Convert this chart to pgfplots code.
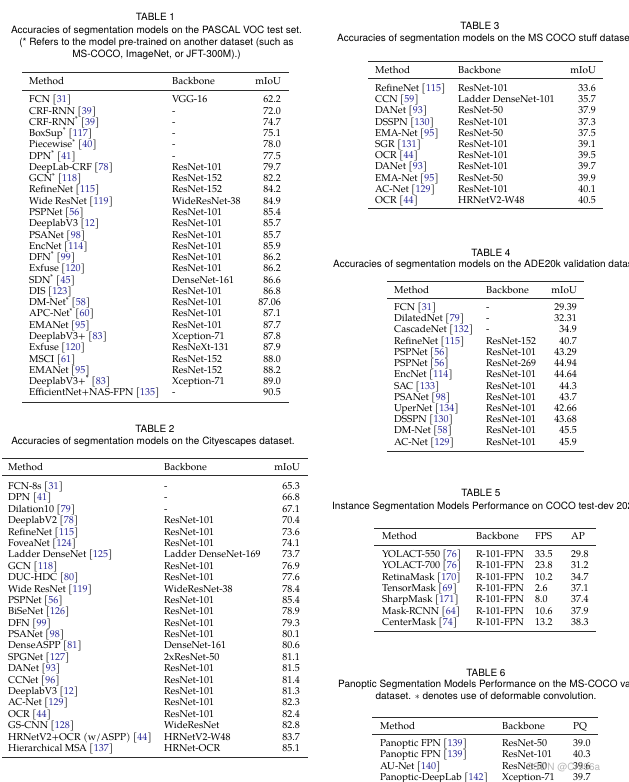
\documentclass[border=0pt]{standalone}
\usepackage{pgfplots}
\pgfplotsset{compat=1.18}
\usepackage{fontspec}
\setmainfont{TeX Gyre Pagella}
\setsansfont{TeX Gyre Heros}
\definecolor{citeblue}{RGB}{40,40,150}
\definecolor{rulegray}{RGB}{45,45,45}
\newcommand{\ct}[1]{[\textcolor{citeblue}{#1}]}
\newcommand{\st}{\textsuperscript{*}}
\newcommand{\caps}{\fontsize{10}{11}\selectfont\sffamily}
% method / backbone / value (right aligned)
\newcommand{\rowsMBV}[6]{%
 \foreach \m/\b/\v [count=\i from 0] in {#6}{%
  \pgfmathsetmacro{\yy}{#4+\i*#5+3.5}
  \node[anchor=base west,inner sep=0] at (#1,\yy) {\m};
  \node[anchor=base west,inner sep=0] at (#2,\yy) {\b};
  \node[anchor=base east,inner sep=0] at (#3,\yy) {\v};
 }}
% method / backbone / value (left aligned)
\newcommand{\rowsMBL}[6]{%
 \foreach \m/\b/\v [count=\i from 0] in {#6}{%
  \pgfmathsetmacro{\yy}{#4+\i*#5+3.5}
  \node[anchor=base west,inner sep=0] at (#1,\yy) {\m};
  \node[anchor=base west,inner sep=0] at (#2,\yy) {\b};
  \node[anchor=base west,inner sep=0] at (#3,\yy) {\v};
 }}
\newcommand{\rules}[5]{%
 \draw[rulegray,line width=1pt] (#1,#3)--(#2,#3);
 \draw[rulegray,line width=0.5pt] (#1,#4)--(#2,#4);
 \draw[rulegray,line width=1pt] (#1,#5)--(#2,#5);}
\begin{document}
\begin{tikzpicture}[x=1pt,y=-1pt,font=\fontsize{10}{12}\selectfont]
\begin{axis}[at={(0,0)},anchor=north west,hide axis,scale only axis,
  width=629pt,height=782pt,xmin=0,xmax=629,ymin=0,ymax=782]
\addplot[draw=none] coordinates {(0,0) (629,782)};
\end{axis}

% ---------------- TABLE 1
\node[anchor=base,inner sep=0] at (155.5,20.5) {\caps TABLE 1};
\node[anchor=base,inner sep=0] at (156.5,33) {\caps Accuracies of segmentation models on the PASCAL VOC test set.};
\node[anchor=base,inner sep=0] at (156.5,45.2) {\caps (* Refers to the model pre-trained on another dataset (such as};
\node[anchor=base,inner sep=0] at (156.5,57.5) {\caps MS-COCO, ImageNet, or JFT-300M).)};
\rules{22}{289}{72.5}{90.5}{402}
\node[anchor=base west,inner sep=0] at (29,84.5) {Method};
\node[anchor=base west,inner sep=0] at (172,84.5) {Backbone};
\node[anchor=base east,inner sep=0] at (281,84.5) {mIoU};
\rowsMBV{29}{172}{281}{99.3}{11.27}{%
 {FCN \ct{31}}/VGG-16/62.2,
 {CRF-RNN \ct{39}}/-/72.0,
 {CRF-RNN\st{} \ct{39}}/-/74.7,
 {BoxSup\st{} \ct{117}}/-/75.1,
 {Piecewise\st{} \ct{40}}/-/78.0,
 {DPN\st{} \ct{41}}/-/77.5,
 {DeepLab-CRF \ct{78}}/ResNet-101/79.7,
 {GCN\st{} \ct{118}}/ResNet-152/82.2,
 {RefineNet \ct{115}}/ResNet-152/84.2,
 {Wide ResNet \ct{119}}/WideResNet-38/84.9,
 {PSPNet \ct{56}}/ResNet-101/85.4,
 {DeeplabV3 \ct{12}}/ResNet-101/85.7,
 {PSANet \ct{98}}/ResNet-101/85.7,
 {EncNet \ct{114}}/ResNet-101/85.9,
 {DFN\st{} \ct{99}}/ResNet-101/86.2,
 {Exfuse \ct{120}}/ResNet-101/86.2,
 {SDN\st{} \ct{45}}/DenseNet-161/86.6,
 {DIS \ct{123}}/ResNet-101/86.8,
 {DM-Net\st{} \ct{58}}/ResNet-101/87.06,
 {APC-Net\st{} \ct{60}}/ResNet-101/87.1,
 {EMANet \ct{95}}/ResNet-101/87.7,
 {DeeplabV3+ \ct{83}}/Xception-71/87.8,
 {Exfuse \ct{120}}/ResNeXt-131/87.9,
 {MSCI \ct{61}}/ResNet-152/88.0,
 {EMANet \ct{95}}/ResNet-152/88.2,
 {DeeplabV3+\st{} \ct{83}}/Xception-71/89.0,
 {EfficientNet+NAS-FPN \ct{135}}/-/90.5}

% ---------------- TABLE 2
\node[anchor=base,inner sep=0] at (155,432.5) {\caps TABLE 2};
\node[anchor=base,inner sep=0] at (153,444.8) {\caps Accuracies of segmentation models on the Cityescapes dataset.};
\rules{2}{308}{458}{475}{757.5}
\node[anchor=base west,inner sep=0] at (8,470.5) {Method};
\node[anchor=base west,inner sep=0] at (164,470.5) {Backbone};
\node[anchor=base east,inner sep=0] at (300,470.5) {mIoU};
\rowsMBV{8}{164}{300}{486}{11.39}{%
 {FCN-8s \ct{31}}/-/65.3,
 {DPN \ct{41}}/-/66.8,
 {Dilation10 \ct{79}}/-/67.1,
 {DeeplabV2 \ct{78}}/ResNet-101/70.4,
 {RefineNet \ct{115}}/ResNet-101/73.6,
 {FoveaNet \ct{124}}/ResNet-101/74.1,
 {Ladder DenseNet \ct{125}}/{Ladder DenseNet-169}/73.7,
 {GCN \ct{118}}/ResNet-101/76.9,
 {DUC-HDC \ct{80}}/ResNet-101/77.6,
 {Wide ResNet \ct{119}}/WideResNet-38/78.4,
 {PSPNet \ct{56}}/ResNet-101/85.4,
 {BiSeNet \ct{126}}/ResNet-101/78.9,
 {DFN \ct{99}}/ResNet-101/79.3,
 {PSANet \ct{98}}/ResNet-101/80.1,
 {DenseASPP \ct{81}}/DenseNet-161/80.6,
 {SPGNet \ct{127}}/2xResNet-50/81.1,
 {DANet \ct{93}}/ResNet-101/81.5,
 {CCNet \ct{96}}/ResNet-101/81.4,
 {DeeplabV3 \ct{12}}/ResNet-101/81.3,
 {AC-Net \ct{129}}/ResNet-101/82.3,
 {OCR \ct{44}}/ResNet-101/82.4,
 {GS-CNN \ct{128}}/WideResNet/82.8,
 {HRNetV2+OCR (w{/}ASPP) \ct{44}}/HRNetV2-W48/83.7,
 {Hierarchical MSA \ct{137}}/HRNet-OCR/85.1}

% ---------------- TABLE 3
\node[anchor=base,inner sep=0] at (480,29.5) {\caps TABLE 3};
\node[anchor=base west,inner sep=0] at (337,41.5) {\caps Accuracies of segmentation models on the MS COCO stuff dataset.};
\rules{368}{603}{61.5}{78.5}{208.5}
\node[anchor=base west,inner sep=0] at (375,73.5) {Method};
\node[anchor=base west,inner sep=0] at (458,73.5) {Backbone};
\node[anchor=base east,inner sep=0] at (596,73.5) {mIoU};
\rowsMBV{375}{458}{596}{88}{11.2}{%
 {RefineNet \ct{115}}/ResNet-101/33.6,
 {CCN \ct{59}}/{Ladder DenseNet-101}/35.7,
 {DANet \ct{93}}/ResNet-50/37.9,
 {DSSPN \ct{130}}/ResNet-101/37.3,
 {EMA-Net \ct{95}}/ResNet-50/37.5,
 {SGR \ct{131}}/ResNet-101/39.1,
 {OCR \ct{44}}/ResNet-101/39.5,
 {DANet \ct{93}}/ResNet-101/39.7,
 {EMA-Net \ct{95}}/ResNet-50/39.9,
 {AC-Net \ct{129}}/ResNet-101/40.1,
 {OCR \ct{44}}/HRNetV2-W48/40.5}

% ---------------- TABLE 4
\node[anchor=base,inner sep=0] at (491,256.5) {\caps TABLE 4};
\node[anchor=base west,inner sep=0] at (333,267.5) {\caps Accuracies of segmentation models on the ADE20k validation dataset.};
\rules{387}{584}{281}{298.5}{451}
\node[anchor=base west,inner sep=0] at (394,293.5) {Method};
\node[anchor=base west,inner sep=0] at (486,293.5) {Backbone};
\node[anchor=base east,inner sep=0] at (577,293.5) {mIoU};
\rowsMBV{394}{486}{577}{307}{11.22}{%
 {FCN \ct{31}}/-/29.39,
 {DilatedNet \ct{79}}/-/32.31,
 {CascadeNet \ct{132}}/-/34.9,
 {RefineNet \ct{115}}/ResNet-152/40.7,
 {PSPNet \ct{56}}/ResNet-101/43.29,
 {PSPNet \ct{56}}/ResNet-269/44.94,
 {EncNet \ct{114}}/ResNet-101/44.64,
 {SAC \ct{133}}/ResNet-101/44.3,
 {PSANet \ct{98}}/ResNet-101/43.7,
 {UperNet \ct{134}}/ResNet-101/42.66,
 {DSSPN \ct{130}}/ResNet-101/43.68,
 {DM-Net \ct{58}}/ResNet-101/45.5,
 {AC-Net \ct{129}}/ResNet-101/45.9}

% ---------------- TABLE 5
\node[anchor=base,inner sep=0] at (481,496.5) {\caps TABLE 5};
\node[anchor=base west,inner sep=0] at (332,509) {\caps Instance Segmentation Models Performance on COCO test-dev 2020.};
\rules{374}{596}{528}{545}{631}
\node[anchor=base west,inner sep=0] at (382,539.5) {Method};
\node[anchor=base west,inner sep=0] at (476,539.5) {Backbone};
\node[anchor=base west,inner sep=0] at (535,539.5) {FPS};
\node[anchor=base west,inner sep=0] at (571,539.5) {AP};
\foreach \m/\b/\f/\a [count=\i from 0] in {%
 {YOLACT-550 \ct{76}}/R-101-FPN/33.5/29.8,
 {YOLACT-700 \ct{76}}/R-101-FPN/23.8/31.2,
 {RetinaMask \ct{170}}/R-101-FPN/10.2/34.7,
 {TensorMask \ct{69}}/R-101-FPN/2.6/37.1,
 {SharpMask \ct{171}}/R-101-FPN/8.0/37.4,
 {Mask-RCNN \ct{64}}/R-101-FPN/10.6/37.9,
 {CenterMask \ct{74}}/R-101-FPN/13.2/38.3}{%
  \pgfmathsetmacro{\yy}{554+\i*11.3+3.5}
  \node[anchor=base west,inner sep=0] at (382,\yy) {\m};
  \node[anchor=base west,inner sep=0] at (476,\yy) {\b};
  \node[anchor=base west,inner sep=0] at (535,\yy) {\f};
  \node[anchor=base west,inner sep=0] at (571,\yy) {\a};
}

% ---------------- TABLE 6
\node[anchor=base,inner sep=0] at (486,676.5) {\caps TABLE 6};
\node[anchor=base west,inner sep=0] at (338,687.5) {\caps Panoptic Segmentation Models Performance on the MS-COCO val};
\node[anchor=base,inner sep=0] at (486,699.5) {\caps dataset. $\ast$ denotes use of deformable convolution.};
\draw[rulegray,line width=1pt] (372,717)--(598,717);
\draw[rulegray,line width=0.5pt] (372,734.5)--(598,734.5);
\node[anchor=base west,inner sep=0] at (380,729) {Method};
\node[anchor=base west,inner sep=0] at (502,729) {Backbone};
\node[anchor=base west,inner sep=0] at (573,729) {PQ};
\rowsMBL{380}{502}{573}{743}{11.3}{%
 {Panoptic FPN \ct{139}}/ResNet-50/39.0,
 {Panoptic FPN \ct{139}}/ResNet-101/40.3,
 {AU-Net \ct{140}}/ResNet-50/39.6,
 {Panoptic-DeepLab \ct{142}}/Xception-71/39.7}

% watermark
\node[anchor=base west,inner sep=0,text=black!35,opacity=0.8] at (526,770) {\fontsize{10}{12}\selectfont\sffamily CSDN @Cr996a};

\pgfresetboundingbox
\useasboundingbox (0,0) rectangle (629,782);
\end{tikzpicture}
\end{document}
